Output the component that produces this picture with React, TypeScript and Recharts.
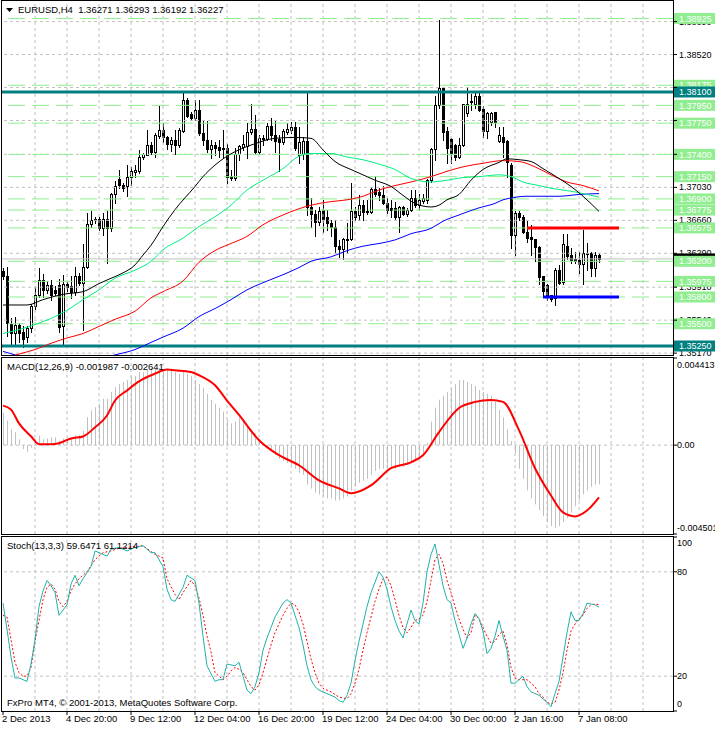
import React from 'react'
import { ComposedChart, Bar, Line, XAxis, YAxis, ReferenceLine } from 'recharts'

// EURUSD H4, 150 bars
const opens = [
  1.3609, 1.3604, 1.355, 1.354, 1.3549, 1.3541, 1.3535, 1.3545, 1.357, 1.3582,
  1.3599, 1.3588, 1.3593, 1.3588, 1.3593, 1.3547, 1.3594, 1.3592, 1.3586, 1.3604,
  1.3596, 1.3614, 1.3662, 1.3666, 1.3667, 1.3657, 1.3668, 1.3657, 1.3695, 1.3712,
  1.3706, 1.3704, 1.3715, 1.372, 1.3721, 1.3737, 1.3739, 1.3751, 1.3743, 1.3761,
  1.3767, 1.3759, 1.3752, 1.3756, 1.3751, 1.3766, 1.3801, 1.3785, 1.3781, 1.379,
  1.3764, 1.3756, 1.3746, 1.3751, 1.3748, 1.3746, 1.3747, 1.3716, 1.3713, 1.374,
  1.3748, 1.3749, 1.3765, 1.3769, 1.3743, 1.3758, 1.3757, 1.3772, 1.3762, 1.3757,
  1.3754, 1.3765, 1.3767, 1.3771, 1.3739, 1.374, 1.3755, 1.3681, 1.3673, 1.3664,
  1.3678, 1.367, 1.3663, 1.3659, 1.3637, 1.3634, 1.3644, 1.3645, 1.3676, 1.3672,
  1.3683, 1.3677, 1.3675, 1.3701, 1.3698, 1.3694, 1.3686, 1.368, 1.368, 1.367,
  1.3681, 1.3673, 1.3678, 1.3691, 1.3683, 1.3688, 1.3689, 1.3711, 1.3746, 1.3795,
  1.3814, 1.3766, 1.3757, 1.3751, 1.3737, 1.3751, 1.3786, 1.3799, 1.3796, 1.3805,
  1.3791, 1.3766, 1.3776, 1.3787, 1.3755, 1.376, 1.3755, 1.3728, 1.365, 1.3674,
  1.367, 1.3653, 1.3647, 1.3645, 1.3636, 1.3604, 1.3593, 1.3582, 1.3579, 1.361,
  1.3597, 1.3637, 1.3627, 1.3623, 1.3621, 1.3617, 1.3628, 1.3629, 1.3613, 1.36271,
]
const highs = [
  1.3612, 1.3614, 1.3556, 1.3557, 1.3551, 1.3547, 1.3547, 1.3572, 1.3591, 1.3612,
  1.3606, 1.3598, 1.3599, 1.3592, 1.36, 1.3605, 1.3598, 1.3603, 1.3614, 1.3607,
  1.3639, 1.3674, 1.3676, 1.367, 1.367, 1.3674, 1.3676, 1.3697, 1.371, 1.3723,
  1.3708, 1.3728, 1.3726, 1.3728, 1.3745, 1.3742, 1.3767, 1.3754, 1.3764, 1.3794,
  1.3775, 1.3761, 1.376, 1.3767, 1.377, 1.3809, 1.3803, 1.3788, 1.3801, 1.3801,
  1.3779, 1.3777, 1.3756, 1.3754, 1.3756, 1.3767, 1.3752, 1.3722, 1.3747, 1.3751,
  1.3762, 1.3775, 1.3797, 1.3784, 1.3762, 1.3762, 1.3775, 1.3781, 1.3777, 1.3762,
  1.3768, 1.3775, 1.3776, 1.3776, 1.3771, 1.376, 1.3809, 1.3691, 1.3678, 1.3681,
  1.3689, 1.3678, 1.3666, 1.3666, 1.3644, 1.3646, 1.3663, 1.3708, 1.3681, 1.3694,
  1.3689, 1.3689, 1.3703, 1.3716, 1.3702, 1.3704, 1.3691, 1.3689, 1.3687, 1.3682,
  1.3682, 1.368, 1.37, 1.37, 1.3696, 1.3696, 1.3712, 1.3747, 1.3805, 1.3891,
  1.3816, 1.3771, 1.3758, 1.3752, 1.3758, 1.3797, 1.3816, 1.3808, 1.3809, 1.3809,
  1.3794, 1.3788, 1.3788, 1.3787, 1.3771, 1.3771, 1.3756, 1.373, 1.3676, 1.3676,
  1.3672, 1.3665, 1.3661, 1.3645, 1.3637, 1.3604, 1.3594, 1.3582, 1.3612, 1.3616,
  1.3651, 1.3651, 1.3635, 1.3631, 1.3631, 1.3655, 1.364, 1.3631, 1.3631, 1.36293,
]
const lows = [
  1.36, 1.3536, 1.3525, 1.3525, 1.353, 1.3524, 1.353, 1.3541, 1.3566, 1.358,
  1.358, 1.3584, 1.3577, 1.3582, 1.3541, 1.3526, 1.3587, 1.3579, 1.3582, 1.3593,
  1.3543, 1.3613, 1.3659, 1.3663, 1.3655, 1.3649, 1.3618, 1.3654, 1.3685, 1.3702,
  1.3699, 1.3693, 1.3706, 1.3715, 1.3719, 1.3735, 1.3739, 1.374, 1.3737, 1.3758,
  1.3754, 1.3746, 1.3744, 1.374, 1.3748, 1.3765, 1.3782, 1.3779, 1.3779, 1.3762,
  1.3751, 1.3743, 1.3736, 1.3739, 1.3737, 1.3736, 1.3708, 1.3711, 1.3711, 1.3734,
  1.3745, 1.3736, 1.3763, 1.3741, 1.374, 1.3751, 1.3756, 1.3756, 1.3743, 1.3721,
  1.3752, 1.3763, 1.3764, 1.3745, 1.373, 1.3735, 1.3672, 1.3659, 1.3648, 1.3661,
  1.3653, 1.3655, 1.3648, 1.3631, 1.3625, 1.3623, 1.3629, 1.3644, 1.3666, 1.3666,
  1.3666, 1.3673, 1.3674, 1.3693, 1.3689, 1.3684, 1.3674, 1.367, 1.3668, 1.3653,
  1.3672, 1.3671, 1.3677, 1.3681, 1.3678, 1.3685, 1.3685, 1.3709, 1.3734, 1.3792,
  1.3756, 1.373, 1.373, 1.3734, 1.3736, 1.3749, 1.3783, 1.379, 1.3792, 1.3789,
  1.376, 1.3758, 1.3773, 1.3771, 1.3754, 1.3737, 1.3715, 1.3635, 1.3627, 1.3666,
  1.3652, 1.3642, 1.3627, 1.362, 1.3595, 1.358, 1.3577, 1.3575, 1.3571, 1.3594,
  1.3595, 1.3623, 1.3618, 1.3618, 1.3607, 1.3595, 1.361, 1.3603, 1.3603, 1.36192,
]
const closes = [
  1.3603, 1.3551, 1.354, 1.3549, 1.354, 1.3533, 1.3545, 1.357, 1.3582, 1.3599,
  1.3588, 1.3593, 1.3582, 1.3585, 1.3546, 1.3594, 1.3591, 1.3586, 1.3604, 1.3596,
  1.3614, 1.3662, 1.3666, 1.3667, 1.3657, 1.3668, 1.3657, 1.3695, 1.3704, 1.3706,
  1.3702, 1.3715, 1.3721, 1.3722, 1.3737, 1.374, 1.3751, 1.3743, 1.3762, 1.3767,
  1.3759, 1.3752, 1.3756, 1.3751, 1.3767, 1.3801, 1.3783, 1.3781, 1.379, 1.3764,
  1.3756, 1.3746, 1.3751, 1.3747, 1.3745, 1.3747, 1.3715, 1.3713, 1.374, 1.3749,
  1.3752, 1.3765, 1.3769, 1.3743, 1.3758, 1.3757, 1.3772, 1.3762, 1.3755, 1.3754,
  1.3766, 1.3769, 1.3771, 1.3747, 1.3754, 1.3755, 1.3681, 1.3673, 1.3664, 1.3676,
  1.3668, 1.3663, 1.3659, 1.3637, 1.3634, 1.3645, 1.3645, 1.3676, 1.367, 1.3683,
  1.3675, 1.3675, 1.3701, 1.3696, 1.3694, 1.3685, 1.3678, 1.3678, 1.367, 1.3681,
  1.3673, 1.3678, 1.3691, 1.3683, 1.3689, 1.3691, 1.3711, 1.3746, 1.3795, 1.3814,
  1.3765, 1.3747, 1.3741, 1.3737, 1.3751, 1.3797, 1.3797, 1.38, 1.3805, 1.379,
  1.3766, 1.3786, 1.3786, 1.3776, 1.3762, 1.3754, 1.3732, 1.365, 1.3674, 1.367,
  1.3653, 1.3646, 1.3645, 1.3636, 1.3602, 1.3587, 1.358, 1.3578, 1.361, 1.3596,
  1.3639, 1.3626, 1.3622, 1.362, 1.3617, 1.3629, 1.3629, 1.3613, 1.3627, 1.36227,
]

// moving averages, read at a few bars each: [bar, price]
const maBlack = [
  [0, 1.3571], [6, 1.3571], [10, 1.3577], [15, 1.3583], [20, 1.3586], [24, 1.3595], [27, 1.3601],
  [30, 1.3607], [33, 1.3616], [35, 1.3627], [37, 1.3638], [40, 1.3659], [43, 1.3678], [48, 1.3704],
  [50, 1.3715], [53, 1.3728], [56, 1.3738], [60, 1.3747], [63, 1.3752], [68, 1.3758], [73, 1.3759],
  [77, 1.3758], [80, 1.3745], [83, 1.3732], [87, 1.3723], [90, 1.3717], [93, 1.3711], [97, 1.3704],
  [100, 1.3694], [103, 1.3685], [107, 1.3681], [109, 1.3683], [111, 1.3689], [114, 1.3695],
  [117, 1.3711], [120, 1.3723], [124, 1.3731], [126, 1.3735], [129, 1.3734], [132, 1.3732],
  [135, 1.3724], [139, 1.3713], [142, 1.3704], [145, 1.3693], [149, 1.3676],
]
const maGreen = [
  [0, 1.3539], [8, 1.3549], [16, 1.3565], [20, 1.3577], [24, 1.3588], [28, 1.3601], [33, 1.361],
  [37, 1.362], [40, 1.3633], [45, 1.3646], [49, 1.3659], [53, 1.367], [57, 1.3683], [61, 1.37],
  [65, 1.3711], [70, 1.3724], [74, 1.3738], [77, 1.3741], [82, 1.3741], [86, 1.3737], [90, 1.3734],
  [94, 1.3729], [98, 1.3723], [102, 1.3713], [107, 1.3709], [111, 1.3711], [115, 1.3714],
  [119, 1.3715], [124, 1.3717], [127, 1.3715], [130, 1.3709], [134, 1.3705], [137, 1.3702],
  [140, 1.37], [144, 1.3697], [147, 1.3694], [149, 1.3692],
]
const maRed = [
  [0, 1.3511], [4, 1.3516], [8, 1.3521], [12, 1.3528], [16, 1.3534], [20, 1.3539], [24, 1.3547],
  [28, 1.3555], [33, 1.3564], [37, 1.3579], [40, 1.3586], [45, 1.3598], [49, 1.3619], [53, 1.3632],
  [57, 1.364], [61, 1.3648], [65, 1.3661], [70, 1.3672], [74, 1.3679], [77, 1.3683], [82, 1.3687],
  [86, 1.3689], [90, 1.3693], [94, 1.37], [98, 1.3705], [102, 1.3709], [107, 1.3715], [111, 1.3721],
  [115, 1.3726], [120, 1.373], [125, 1.3733], [129, 1.3732], [133, 1.3726], [137, 1.3717],
  [141, 1.3709], [145, 1.3705], [149, 1.3699],
]
const maBlue = [
  [0, 1.3519], [3, 1.3515], [10, 1.3508], [20, 1.3507], [28, 1.3515], [33, 1.3521], [37, 1.3529],
  [40, 1.3535], [45, 1.3545], [49, 1.3558], [53, 1.3567], [57, 1.3577], [61, 1.3588], [65, 1.3596],
  [70, 1.3605], [74, 1.3613], [77, 1.362], [82, 1.3625], [86, 1.3632], [90, 1.3637], [94, 1.364],
  [98, 1.3644], [102, 1.3651], [107, 1.3657], [110, 1.3665], [114, 1.3672], [119, 1.368],
  [123, 1.3685], [125, 1.3689], [127, 1.3691], [131, 1.3693], [135, 1.3693], [139, 1.3693],
  [144, 1.3695], [149, 1.3696],
]

// MACD(12,26,9): main histogram per bar, signal line at a few bars
const macdMain = [
  0.00163, 0.00124, 0.0008, 0.00065, 0.0003, -0.0002, -0.00034, -0.00012, 0.0003, 0.00048,
  0.0003, 0.00034, 0.0004, 0.0004, 0.00022, 0.00034, 0.0003, 0.00034, 0.0005, 0.0005,
  0.00073, 0.00141, 0.00175, 0.00192, 0.0021, 0.00235, 0.00235, 0.0027, 0.00294, 0.0031,
  0.0032, 0.0033, 0.0035, 0.0035, 0.0037, 0.0037, 0.0038, 0.0039, 0.0039, 0.0039,
  0.0038, 0.0038, 0.0038, 0.0037, 0.0036, 0.0037, 0.0036, 0.0035, 0.0033, 0.0031,
  0.0029, 0.0026, 0.0023, 0.0021, 0.0019, 0.0017, 0.0013, 0.0011, 0.0012, 0.0014,
  0.0012, 0.001, 0.0008, 0.0006, 0.0003, 0.0001, -0.0001, -0.0003, -0.0005, -0.0007,
  -0.0008, -0.0009, -0.001, -0.0012, -0.0014, -0.0015, -0.002, -0.0022, -0.0024, -0.0025,
  -0.0026, -0.0027, -0.0027, -0.0028, -0.0028, -0.0027, -0.0026, -0.0023, -0.0021, -0.0019,
  -0.0018, -0.0017, -0.0015, -0.0013, -0.0012, -0.0012, -0.0012, -0.0012, -0.0012, -0.0011,
  -0.0011, -0.001, -0.0009, -0.0008, -0.0007, -0.0005, 0.0001, 0.0012, 0.0019, 0.0023,
  0.0025, 0.0027, 0.0029, 0.0031, 0.0033, 0.0033, 0.0032, 0.0031, 0.003, 0.0028,
  0.0027, 0.0026, 0.0025, 0.0022, 0.0018, 0.0014, 0.0008, 0.0002, -0.0004, -0.0012,
  -0.0017, -0.0023, -0.0027, -0.003, -0.0033, -0.0036, -0.0039, -0.0041, -0.0042, -0.0041,
  -0.0039, -0.0037, -0.0034, -0.0031, -0.0028, -0.0025, -0.0023, -0.0021, -0.002, -0.001987,
]
const macdSignal = [
  [0, 0.002], [2, 0.0018], [4, 0.0011], [7, 0.00045], [9, 0.00005], [12, 0.00005], [14, 0.0001],
  [17, 0.00034], [20, 0.00044], [23, 0.0009], [26, 0.0015], [28, 0.00226], [31, 0.00277],
  [34, 0.00323], [38, 0.00362], [41, 0.00383], [43, 0.00379], [47, 0.0037], [49, 0.00354],
  [53, 0.00303], [56, 0.00226], [59, 0.00153], [64, 0.00025], [69, -0.00051], [74, -0.00102],
  [79, -0.00178], [84, -0.00219], [87, -0.00244], [92, -0.00204], [97, -0.00117], [102, -0.00087],
  [105, -0.00051], [109, 0.00066], [114, 0.00188], [118, 0.00219], [122, 0.00229], [125, 0.00219],
  [129, 0.00076], [133, -0.00117], [137, -0.00255], [140, -0.00341], [143, -0.00361],
  [146, -0.00331], [149, -0.002641],
]

// Stoch(13,3,3)
const stochK = [
  [0, 62], [1, 47], [2, 31], [3, 19], [4, 19], [6, 17], [7, 27], [8, 41], [9, 60], [10, 69], [11, 75],
  [12, 72], [13, 68], [14, 55], [15, 58], [16, 61], [17, 73], [18, 78], [19, 72], [20, 76], [22, 83],
  [23, 92], [24, 91], [26, 89], [27, 93], [29, 94], [31, 92], [33, 94], [35, 95], [37, 91], [38, 91],
  [40, 83], [41, 70], [42, 64], [43, 63], [45, 71], [46, 78], [48, 75], [49, 62], [50, 43], [51, 26],
  [53, 17], [54, 18], [55, 18], [56, 27], [58, 26], [59, 28], [60, 20], [61, 12], [62, 10], [63, 14],
  [64, 22], [65, 35], [66, 42], [67, 48], [68, 54], [69, 58], [70, 62], [71, 64], [72, 62], [73, 55],
  [74, 48], [75, 38], [76, 26], [77, 18], [78, 14], [79, 12], [80, 11], [81, 10], [82, 9], [83, 8],
  [84, 6], [85, 5], [86, 9], [87, 16], [88, 29], [89, 40], [90, 50], [91, 60], [92, 68], [93, 74],
  [94, 80], [95, 77], [96, 70], [97, 60], [98, 52], [99, 46], [100, 42], [101, 50], [102, 58],
  [103, 52], [104, 50], [105, 62], [106, 80], [107, 90], [108, 96], [109, 84], [110, 72], [111, 64],
  [112, 62], [113, 52], [114, 44], [115, 36], [116, 42], [117, 50], [118, 56], [119, 53], [120, 46],
  [121, 33], [122, 36], [123, 43], [124, 52], [125, 43], [126, 35], [127, 16], [128, 16], [130, 20],
  [131, 14], [132, 11], [134, 9], [136, 5], [137, 2.5], [138, 10], [139, 17], [140, 31], [141, 45],
  [142, 57], [143, 52], [144, 52], [145, 56], [146, 62], [147, 61.5], [148, 61], [149, 59.6471],
]
const stochD = [
  [0, 55], [1, 54], [2, 41], [3, 28], [4, 22], [5, 20], [6, 20], [7, 25], [8, 40], [9, 52], [10, 64],
  [11, 71], [12, 73], [13, 70], [14, 63], [15, 60], [16, 63], [17, 69], [18, 73], [19, 76], [21, 80],
  [23, 87], [25, 91], [27, 92], [29, 93.5], [33, 94.5], [35, 95], [38, 90], [40, 88], [41, 76],
  [43, 67], [44, 64], [45, 68], [47, 75], [48, 72], [49, 65], [50, 55], [51, 43], [52, 34], [53, 22],
  [55, 18], [56, 20], [57, 23], [58, 25], [59, 24], [60, 22], [61, 18], [62, 14], [63, 12], [64, 15],
  [65, 22], [66, 30], [67, 38], [68, 45], [69, 50], [70, 55], [71, 59], [72, 62], [73, 61], [74, 57],
  [75, 50], [76, 40], [77, 30], [78, 22], [79, 16], [80, 13], [82, 11], [84, 8], [86, 7], [87, 10],
  [88, 16], [89, 24], [90, 35], [91, 45], [92, 54], [93, 63], [94, 70], [95, 76], [96, 77], [97, 72],
  [98, 64], [99, 55], [100, 48], [101, 45], [102, 48], [103, 52], [104, 53], [105, 55], [106, 63],
  [107, 75], [108, 87], [109, 90], [110, 85], [111, 75], [112, 68], [113, 60], [114, 53], [115, 47],
  [116, 42], [117, 45], [118, 55], [119, 53], [120, 48], [121, 43], [122, 39], [123, 40], [124, 44],
  [125, 46], [126, 38], [127, 25], [128, 19], [129, 18], [131, 18], [133, 14], [134, 10], [135, 8],
  [136, 5], [137, 4], [138, 5], [139, 12], [140, 22], [141, 35], [142, 46], [143, 50], [144, 53],
  [145, 55], [146, 59], [147, 61], [148, 61.5], [149, 61.1214],
]

const xLabels = [
  '2 Dec 2013', '4 Dec 20:00', '9 Dec 12:00', '12 Dec 04:00', '16 Dec 20:00',
  '19 Dec 12:00', '24 Dec 04:00', '30 Dec 00:00', '2 Jan 16:00', '7 Jan 08:00',
]
const priceTicks = [1.3517, 1.3554, 1.3591, 1.3629, 1.3666, 1.3703, 1.374, 1.3778, 1.3815, 1.3852, 1.3889]
const greenLevels = [1.38925, 1.38175, 1.3795, 1.3775, 1.374, 1.3715, 1.369, 1.36775, 1.36575, 1.362, 1.35975, 1.358, 1.355]
const tealLevels = [1.381, 1.3525]
const resistance = { from: 131, to: 154, price: 1.36575 }
const support = { from: 135, to: 154, price: 1.358 }
const bid = 1.36227
const macdTicks = [-0.004501, 0, 0.004413]
const stochTicks = [0, 20, 80, 100]

const SLOTS = 168
const LABEL_STEP = 16
const GRID_STEP = 8
const FONT = '"Liberation Sans", Arial, sans-serif'
const FS = 9.5
const AXIS_FS = 9
const W = 715

const rows: Record<string, any>[] = Array.from({ length: SLOTS }, (_, i) => {
  const row: Record<string, any> = { i }
  if (i < closes.length) {
    row.o = opens[i]
    row.h = highs[i]
    row.l = lows[i]
    row.c = closes[i]
    row.range = [lows[i], highs[i]]
    row.macd = macdMain[i]
  }
  return row
})
const put = (key: string, pts: number[][]) => pts.forEach(([b, v]) => { rows[b][key] = v })
put('maBlack', maBlack)
put('maGreen', maGreen)
put('maRed', maRed)
put('maBlue', maBlue)
put('sig', macdSignal)
put('k', stochK)
put('d', stochD)

const gridBars = rows.map((r) => r.i).filter((i) => i > 0 && i % GRID_STEP === 0)
const labelBars = xLabels.map((_, k) => k * LABEL_STEP)

function Candle(props: any) {
  const { x, y, width, height, payload } = props
  if (!payload || payload.h == null) return null
  const top = Math.min(y, y + height)
  const bot = Math.max(y, y + height)
  const span = payload.h - payload.l
  const py = (p: number) => (span > 0 ? top + ((payload.h - p) / span) * (bot - top) : top)
  const cx = Math.floor(x + width / 2)
  const up = payload.c >= payload.o
  const y1 = Math.round(Math.min(py(payload.o), py(payload.c)))
  const y2 = Math.round(Math.max(py(payload.o), py(payload.c)))
  return (
    <g>
      <line x1={cx + 0.5} x2={cx + 0.5} y1={Math.round(top)} y2={Math.round(bot) + 1} stroke="#000" />
      <rect x={cx - 0.5} y={y1 + 0.5} width={2} height={Math.max(y2 - y1, 0)} fill={up ? '#fff' : '#000'} stroke="#000" />
    </g>
  )
}

function HistLine(props: any) {
  const { x, y, width, height, value } = props
  if (value == null || y == null) return null
  const top = Math.min(y, y + height)
  const h = Math.max(Math.abs(height), 1)
  return <rect x={Math.floor(x + width / 2)} y={top} width={1} height={h} fill="#C0C0C0" />
}

// boxed price label drawn to the right of the plot
function PriceTag({ viewBox, text, bg }: any) {
  if (!viewBox) return null
  const x = viewBox.x + viewBox.width
  const y = viewBox.y
  return (
    <g>
      <rect x={x + 1} y={y - 5.5} width={42} height={11} fill={bg} />
      <text x={x + 6} y={y} dy="0.35em" fontSize={AXIS_FS} fontFamily={FONT} fill="#fff">{text}</text>
    </g>
  )
}

// plain black axis value, drawn as a reference-line label so tags can cover it
function AxisText({ viewBox, text }: any) {
  if (!viewBox) return null
  return (
    <text x={viewBox.x + viewBox.width + 6} y={viewBox.y} dy="0.35em" fontSize={AXIS_FS} fontFamily={FONT} fill="#000">
      {text}
    </text>
  )
}

const NoTick = () => <g />

function SideTick({ x, y, payload, fmt, shift }: any) {
  const dy = shift[String(payload.value)] ?? 0
  return (
    <text x={x - 2} y={y + dy} dy="0.35em" fontSize={AXIS_FS} fontFamily={FONT} fill="#000" textAnchor="start">
      {fmt(payload.value)}
    </text>
  )
}

function TimeTick({ x, y, payload }: any) {
  const k = labelBars.indexOf(payload.value)
  return (
    <text x={x - 1} y={y + 5} fontSize={FS} fontFamily={FONT} fill="#000" textAnchor="start">
      {xLabels[k] ?? ''}
    </text>
  )
}

const gridLine = { stroke: '#C0C0C0', strokeDasharray: '3 3' }

function vGrid() {
  return gridBars.map((b) => <ReferenceLine key={'vg' + b} x={b} {...gridLine} />)
}

const frame = (top: number, height: number): React.CSSProperties => ({
  position: 'absolute', left: 1, top, width: 673, height, border: '1px solid #000', boxSizing: 'border-box', pointerEvents: 'none',
})
const caption = (left: number, top: number): React.CSSProperties => ({
  position: 'absolute', left, top, fontFamily: FONT, fontSize: FS, lineHeight: '12px', whiteSpace: 'pre', color: '#000',
})

export default function App() {
  return (
    <div style={{ position: 'absolute', left: 0, top: 0, width: W, height: 729, background: '#fff', overflow: 'hidden' }}>
      {/* price panel */}
      <div style={{ position: 'absolute', left: 0, top: 0 }}>
        <ComposedChart width={W} height={356} data={rows} margin={{ top: 0, right: 0, bottom: 1, left: 1 }}>
          <XAxis dataKey="i" type="category" scale="band" hide />
          <YAxis
            orientation="right"
            width={42}
            domain={[1.35149, 1.39132]}
            allowDataOverflow
            ticks={priceTicks}
            interval={0}
            axisLine={false}
            tickLine={{ stroke: '#000' }}
            tickSize={4}
            tick={<NoTick />}
          />
          {vGrid()}
          <ReferenceLine y={bid} stroke="#C0C0C0" label={(p: any) => <PriceTag {...p} text={bid.toFixed(5)} bg="#000" />} />
          {priceTicks.map((p) => (
            <ReferenceLine
              key={'hg' + p}
              y={p}
              {...gridLine}
              label={(lp: any) => <AxisText {...lp} text={p.toFixed(5)} />}
            />
          ))}
          {greenLevels.map((p) => (
            <ReferenceLine
              key={'gl' + p}
              y={p}
              stroke="#90EE90"
              strokeDasharray="17 7"
              label={(lp: any) => <PriceTag {...lp} text={p.toFixed(5)} bg="#90EE90" />}
            />
          ))}
          {tealLevels.map((p) => (
            <ReferenceLine
              key={'tl' + p}
              y={p}
              stroke="#008080"
              strokeWidth={3}
              label={(lp: any) => <PriceTag {...lp} text={p.toFixed(5)} bg="#008080" />}
            />
          ))}
          <ReferenceLine
            segment={[{ x: resistance.from, y: resistance.price }, { x: resistance.to, y: resistance.price }]}
            stroke="#FF0000"
            strokeWidth={3}
          />
          <ReferenceLine
            segment={[{ x: support.from, y: support.price }, { x: support.to, y: support.price }]}
            stroke="#0000FF"
            strokeWidth={3}
          />
          <Line dataKey="maBlue" stroke="#0000FF" strokeWidth={1} dot={false} type="monotone" connectNulls isAnimationActive={false} />
          <Line dataKey="maRed" stroke="#FF0000" strokeWidth={1} dot={false} type="monotone" connectNulls isAnimationActive={false} />
          <Line dataKey="maGreen" stroke="#00F080" strokeWidth={1} dot={false} type="monotone" connectNulls isAnimationActive={false} />
          <Line dataKey="maBlack" stroke="#000000" strokeWidth={1} dot={false} type="monotone" connectNulls isAnimationActive={false} />
          <Bar dataKey="range" barSize={3} shape={<Candle />} isAnimationActive={false} />
        </ComposedChart>
      </div>

      {/* MACD panel */}
      <div style={{ position: 'absolute', left: 0, top: 357 }}>
        <ComposedChart width={W} height={178} data={rows} margin={{ top: 1, right: 0, bottom: 1, left: 1 }}>
          <XAxis dataKey="i" type="category" scale="band" hide />
          <YAxis
            orientation="right"
            width={42}
            domain={[macdTicks[0], macdTicks[2]]}
            allowDataOverflow
            ticks={macdTicks}
            interval={0}
            axisLine={false}
            tickLine={{ stroke: '#000' }}
            tickSize={4}
            tick={
              <SideTick
                fmt={(v: number) => (v === 0 ? '0.00' : v.toFixed(6))}
                shift={{ [String(macdTicks[0])]: -6, [String(macdTicks[2])]: 7 }}
              />
            }
          />
          {vGrid()}
          <ReferenceLine y={0} {...gridLine} />
          <Bar dataKey="macd" barSize={1} shape={<HistLine />} isAnimationActive={false} />
          <Line dataKey="sig" stroke="#FF0000" strokeWidth={2} dot={false} type="monotone" connectNulls isAnimationActive={false} />
        </ComposedChart>
      </div>

      {/* Stochastic panel */}
      <div style={{ position: 'absolute', left: 0, top: 536 }}>
        <ComposedChart width={W} height={193} data={rows} margin={{ top: 1, right: 0, bottom: 0, left: 1 }}>
          <XAxis
            dataKey="i"
            type="category"
            scale="band"
            ticks={labelBars}
            interval={0}
            height={18}
            axisLine={false}
            tickLine={{ stroke: '#000' }}
            tickSize={4}
            tick={<TimeTick />}
          />
          <YAxis
            orientation="right"
            width={42}
            domain={[0, 100]}
            ticks={stochTicks}
            interval={0}
            axisLine={false}
            tickLine={{ stroke: '#000' }}
            tickSize={4}
            tick={<SideTick fmt={(v: number) => String(v)} shift={{ '0': -7, '100': 6 }} />}
          />
          {vGrid()}
          <ReferenceLine y={20} {...gridLine} />
          <ReferenceLine y={80} {...gridLine} />
          <Line dataKey="d" stroke="#FF0000" strokeWidth={1} strokeDasharray="2 2" dot={false} type="linear" connectNulls isAnimationActive={false} />
          <Line dataKey="k" stroke="#20B2AA" strokeWidth={1} dot={false} type="linear" connectNulls isAnimationActive={false} />
        </ComposedChart>
      </div>

      <div style={frame(0, 356)} />
      <div style={frame(357, 178)} />
      <div style={frame(536, 176)} />

      <svg style={{ position: 'absolute', left: 0, top: 0 }} width={20} height={20}>
        <polygon points="6,8 13,8 9.5,12" fill="#000" />
      </svg>
      <div style={caption(18, 4)}>{'EURUSD,H4  1.36271 1.36293 1.36192 1.36227'}</div>
      <div style={caption(7, 361)}>{'MACD(12,26,9) -0.001987 -0.002641'}</div>
      <div style={caption(7, 540)}>{'Stoch(13,3,3) 59.6471 61.1214'}</div>
      <div style={caption(7, 697)}>{'FxPro MT4, © 2001-2013, MetaQuotes Software Corp.'}</div>
    </div>
  )
}
